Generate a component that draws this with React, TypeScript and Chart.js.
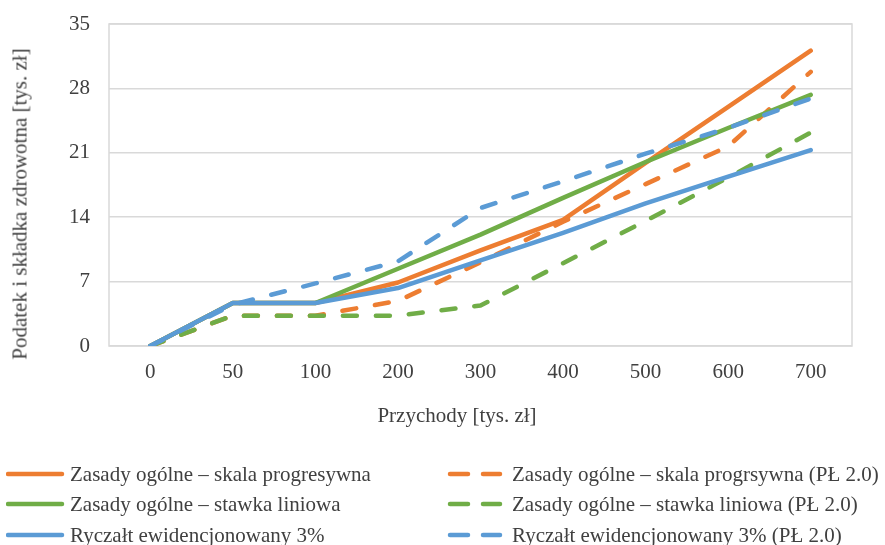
import React, { useEffect, useRef } from "react";
import { Chart, registerables } from "chart.js";

Chart.register(...registerables);

const categories = ["0", "50", "100", "200", "300", "400", "500", "600", "700"];
const skalaProgresywna = [0, 4.67, 4.67, 6.9, 10.4, 13.7, 19.9, 26.0, 32.1];
const skalaProgresywnaPL = [0, 3.3, 3.3, 4.9, 9.1, 13.5, 17.6, 21.7, 29.8];
const stawkaLiniowa = [0, 4.67, 4.67, 8.4, 12.1, 16.1, 20.0, 23.7, 27.3];
const stawkaLiniowaPL = [0, 3.3, 3.3, 3.3, 4.4, 9.0, 13.6, 18.3, 23.2];
const ryczalt = [0, 4.67, 4.67, 6.3, 9.3, 12.3, 15.5, 18.4, 21.3];
const ryczaltPL = [0, 4.5, 6.8, 9.2, 15.0, 17.9, 20.9, 23.7, 26.9];
const yTicks = [0, 7, 14, 21, 28, 35];

const ORANGE = "#ED7D31";
const GREEN = "#70AD47";
const BLUE = "#5B9BD5";
const TEXT = "#404040";
const FONT = "'Liberation Serif', 'Times New Roman', serif";

const seriesDefs = [
  { label: "Zasady ogólne – skala progresywna", data: skalaProgresywna, color: ORANGE, dashed: false },
  { label: "Zasady ogólne – skala progrsywna (PŁ 2.0)", data: skalaProgresywnaPL, color: ORANGE, dashed: true },
  { label: "Zasady ogólne – stawka liniowa", data: stawkaLiniowa, color: GREEN, dashed: false },
  { label: "Zasady ogólne – stawka liniowa (PŁ 2.0)", data: stawkaLiniowaPL, color: GREEN, dashed: true },
  { label: "Ryczałt ewidencjonowany 3%", data: ryczalt, color: BLUE, dashed: false },
  { label: "Ryczałt ewidencjonowany 3% (PŁ 2.0)", data: ryczaltPL, color: BLUE, dashed: true },
];

const framePlugin = {
  id: "frame",
  beforeDatasetsDraw(chart: any) {
    const { ctx, chartArea } = chart;
    ctx.save();
    ctx.strokeStyle = "#d9d9d9";
    ctx.lineWidth = 1.5;
    ctx.strokeRect(chartArea.left, chartArea.top, chartArea.right - chartArea.left, chartArea.bottom - chartArea.top);
    ctx.restore();
  },
};

function LegendItem({ color, dashed, label, x, y, textX }: any) {
  return (
    <div style={{ position: "absolute", left: x, top: y - 15, height: 30, display: "flex", alignItems: "center", whiteSpace: "nowrap" }}>
      <svg width={textX - x} height={30} style={{ display: "block" }}>
        {dashed ? (
          <>
            <line x1={4} y1={15} x2={22} y2={15} stroke={color} strokeWidth={4.5} strokeLinecap="round" />
            <line x1={37} y1={15} x2={54} y2={15} stroke={color} strokeWidth={4.5} strokeLinecap="round" />
          </>
        ) : (
          <line x1={2} y1={15} x2={56} y2={15} stroke={color} strokeWidth={4.5} strokeLinecap="round" />
        )}
      </svg>
      <span style={{ fontFamily: FONT, fontSize: 21, color: TEXT, lineHeight: "30px" }}>{label}</span>
    </div>
  );
}

export default function App() {
  const canvasRef = useRef<HTMLCanvasElement | null>(null);

  useEffect(() => {
    if (!canvasRef.current) return;
    const n = seriesDefs.length;
    const chart = new Chart(canvasRef.current, {
      type: "line",
      data: {
        labels: categories,
        datasets: seriesDefs.map((s, i) => ({
          label: s.label,
          data: s.data,
          borderColor: s.color,
          backgroundColor: s.color,
          borderWidth: 4.5,
          borderDash: s.dashed ? [14, 19] : [],
          borderCapStyle: "round",
          borderJoinStyle: "round",
          pointRadius: 0,
          pointHoverRadius: 0,
          fill: false,
          tension: 0,
          order: n - i,
        })),
      },
      options: {
        responsive: false,
        animation: false,
        maintainAspectRatio: false,
        layout: { padding: { left: 0, top: 24, right: 33, bottom: 0 } },
        plugins: { legend: { display: false }, tooltip: { enabled: false } },
        scales: {
          x: {
            type: "category",
            offset: true,
            grid: { display: false, drawTicks: false },
            border: { display: false },
            ticks: { color: TEXT, font: { family: FONT, size: 21 }, padding: 14, maxRotation: 0, autoSkip: false },
            afterFit: (scale: any) => {
              scale.height = 199;
              scale.paddingLeft = 0;
              scale.paddingRight = 0;
            },
          },
          y: {
            min: 0,
            max: 35,
            afterBuildTicks: (scale: any) => {
              scale.ticks = yTicks.map((v) => ({ value: v }));
            },
            grid: { color: "#d9d9d9", lineWidth: 1.5, drawTicks: false },
            border: { display: false },
            ticks: { color: TEXT, font: { family: FONT, size: 21 }, padding: 19 },
            afterFit: (scale: any) => {
              scale.width = 109;
              scale.paddingTop = 0;
              scale.paddingBottom = 0;
            },
          },
        },
      },
      plugins: [framePlugin],
    } as any);
    return () => chart.destroy();
  }, []);

  const rows = [474, 504, 535];
  return (
    <div style={{ position: "fixed", left: 0, top: 0, width: 885, height: 545, background: "#fff", overflow: "hidden" }}>
      <canvas ref={canvasRef} width={885} height={545} style={{ position: "absolute", left: 0, top: 0, width: 885, height: 545 }} />
      <div
        style={{
          position: "absolute",
          left: 20,
          top: 204,
          transform: "translate(-50%, -50%) rotate(-90deg)",
          whiteSpace: "nowrap",
          fontFamily: FONT,
          fontSize: 21,
          color: TEXT,
        }}
      >
        Podatek i składka zdrowotna [tys. zł]
      </div>
      <div
        style={{
          position: "absolute",
          left: 457,
          top: 415,
          transform: "translate(-50%, -50%)",
          whiteSpace: "nowrap",
          fontFamily: FONT,
          fontSize: 21,
          color: TEXT,
        }}
      >
        Przychody [tys. zł]
      </div>
      {seriesDefs.map((s, i) => {
        const col = i % 2;
        const row = Math.floor(i / 2);
        return (
          <LegendItem
            key={s.label}
            color={s.color}
            dashed={s.dashed}
            label={s.label}
            x={col === 0 ? 6 : 446}
            textX={col === 0 ? 70 : 512}
            y={rows[row]}
          />
        );
      })}
    </div>
  );
}
